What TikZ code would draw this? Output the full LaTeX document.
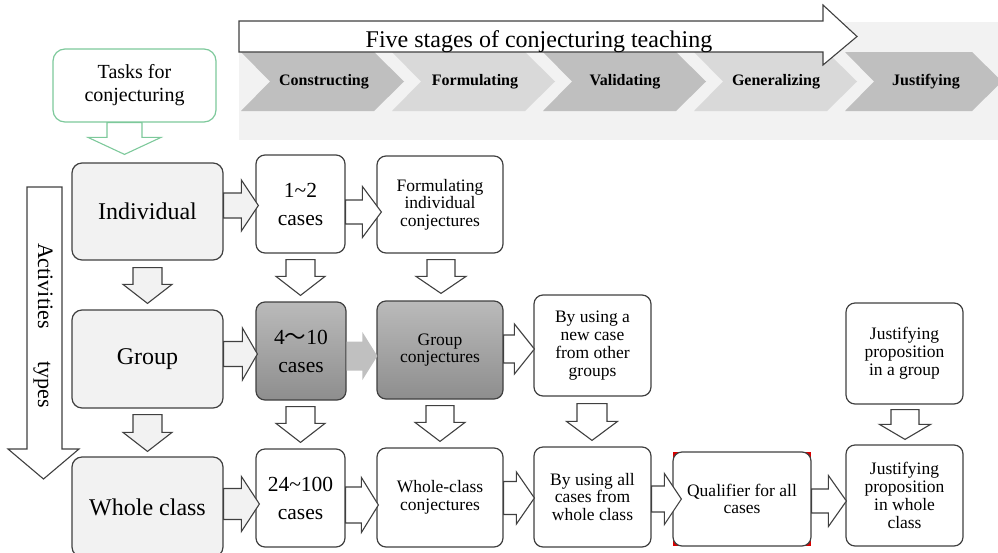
\documentclass[tikz,border=0pt]{standalone}
\usepackage{fontspec}
\setmainfont{Liberation Serif}
\newfontfamily\cjkfont{Noto Sans CJK SC}
\usetikzlibrary{calc}
\definecolor{lgray}{HTML}{F2F2F2}
\definecolor{chevdark}{HTML}{BFBFBF}
\definecolor{chevlight}{HTML}{D9D9D9}
\definecolor{edge}{HTML}{404040}
\definecolor{tgreen}{HTML}{7DC99B}
\definecolor{gtop}{HTML}{BABABA}
\definecolor{gbot}{HTML}{8E8E8E}
\definecolor{garrow}{HTML}{C0C0C0}

% box: name, x1, y1, x2, y2, style, text
\newcommand\mkbox[7]{\node[#6, minimum width={(#4-#2)*1pt}, minimum height={(#5-#3)*1pt}] (#1) at ({(#2+#4)/2},{(#3+#5)/2}) {#7};}
% horizontal block arrow: style, from, to, yc, shaft half, head half, head len, overshoot
\newcommand\harr[8]{\path[#1] let \p1=(#2), \p2=(#3), \p3=(0,#4) in
  (\x1,\y3+#5) -- (\x2+#8-#7,\y3+#5) -- (\x2+#8-#7,\y3+#6) -- (\x2+#8,\y3) --
  (\x2+#8-#7,\y3-#6) -- (\x2+#8-#7,\y3-#5) -- (\x1,\y3-#5) -- cycle;}
% vertical block arrow: style, from, to, xc, shaft half, head half, head len, start gap, end gap
\newcommand\varr[9]{\path[#1] let \p1=(#2), \p2=(#3), \p3=(#4,0) in
  (\x3-#5,\y1-#8) -- (\x3-#5,\y2+#9+#7) -- (\x3-#6,\y2+#9+#7) -- (\x3,\y2+#9) --
  (\x3+#6,\y2+#9+#7) -- (\x3+#5,\y2+#9+#7) -- (\x3+#5,\y1-#8) -- cycle;}
% chevron: left x, right-top x, style
\newcommand\chev[3]{\fill[#3] (#1,52) -- (#2,52) -- (#2+30,81.5) -- (#2,111) -- (#1,111) -- (#1+29,81.5) -- cycle;}

\tikzset{
  box/.style={draw=edge, line width=1.2pt, rounded corners=9pt, align=center, inner sep=0pt, text=black},
  lbox/.style={box, fill=lgray, rounded corners=10pt, font=\fontsize{24}{27}\selectfont},
  cbox/.style={box, fill=white, font=\fontsize{21.5}{28}\selectfont},
  gbox/.style={box, top color=gtop, bottom color=gbot},
  tbox/.style={box, fill=white, font=\fontsize{17.5}{17.5}\selectfont},
  wtarrow/.style={draw=edge, line width=1.1pt, fill=white},
  ltarrow/.style={draw=edge, line width=1.1pt, fill=lgray},
  grarrow/.style={fill=garrow},
  chevlabel/.style={font=\fontsize{16}{18}\selectfont\bfseries, text=black, inner sep=0pt}
}

\begin{document}
\begin{tikzpicture}[x=1pt,y=-1pt]
\useasboundingbox (0,0) rectangle (998,552);

% ---- top band with stages ----
\fill[lgray] (239,22) rectangle (998,140);
\chev{241}{374}{chevdark}
\chev{392}{525}{chevlight}
\chev{543}{676}{chevdark}
\chev{694}{827}{chevlight}
\chev{845}{972}{chevdark}
\node[chevlabel] (s1) at (324,81.5) {Constructing};
\node[chevlabel] (s2) at (475,81.5) {Formulating};
\node[chevlabel] (s3) at (625,81.5) {Validating};
\node[chevlabel] (s4) at (776,81.5) {Generalizing};
\node[chevlabel] (s5) at (926,81.5) {Justifying};

\draw[draw=edge, line width=1.1pt, fill=white]
  (239,21) -- (823,21) -- (823,5) -- (857,36.5) -- (823,65) -- (823,52) -- (239,52) -- cycle;
\node[anchor=base, inner sep=0pt, font=\fontsize{24}{27}\selectfont] (stages) at (539,47) {Five stages of conjecturing teaching};

% ---- tasks ----
\mkbox{tasks}{53}{49}{216}{122}{box, draw=tgreen, fill=white, rounded corners=12pt, font=\fontsize{20}{23}\selectfont}{Tasks for\\conjecturing}

% ---- activities types arrow ----
\draw[draw=edge, line width=1.1pt, fill=white]
  (27,187) -- (62,187) -- (62,449) -- (79,449) -- (43.5,479) -- (8,449) -- (27,449) -- cycle;
\node[rotate=-90, inner sep=0pt, font=\fontsize{22}{26}\selectfont] (acts) at (43,325.5) {Activities\hspace{33pt}types};

% ---- boxes ----
\mkbox{ind}{72}{163}{223}{260}{lbox}{Individual}
\mkbox{grp}{72}{310}{223}{408}{lbox}{Group}
\mkbox{whl}{72}{457}{223}{557}{lbox}{Whole class}

\mkbox{c1}{256}{155}{345}{253}{cbox}{1\textasciitilde2\\cases}
\mkbox{c2}{256}{302}{346}{400}{cbox, gbox}{4{\cjkfont ～}10\\cases}
\mkbox{c3}{256}{449}{345}{547}{cbox}{24\textasciitilde100\\cases}

\mkbox{f1}{377}{156}{503}{253}{tbox}{Formulating\\individual\\conjectures}
\mkbox{f2}{377}{301}{503}{399}{tbox, gbox}{Group\\conjectures}
\mkbox{f3}{377}{448}{503}{547}{tbox}{Whole-class\\conjectures}

\mkbox{g2}{534}{295}{651}{396}{tbox, font=\fontsize{17.5}{18}\selectfont}{By using a\\new case\\from other\\groups}
\mkbox{g3}{534}{447}{651}{547}{tbox}{By using all\\cases from\\whole class}

\fill[red!85!black] (673,452) rectangle (811,546);
\mkbox{q3}{673}{452}{811}{546}{tbox}{Qualifier for all\\cases}

\mkbox{j2}{846}{303}{963}{404}{tbox, font=\fontsize{17.5}{18}\selectfont}{Justifying\\proposition\\in a group}
\mkbox{j3}{846}{445}{963}{546}{tbox, font=\fontsize{17.5}{18}\selectfont}{Justifying\\proposition\\in whole\\class}

% ---- vertical arrows ----
\varr{draw=tgreen, line width=1.1pt, fill=white}{tasks.south}{ind.north}{124.5}{17.5pt}{36.5pt}{17pt}{0pt}{8pt}
\varr{ltarrow}{ind.south}{grp.north}{147.5}{14.5pt}{24.5pt}{19pt}{7pt}{6pt}
\varr{ltarrow}{grp.south}{whl.north}{147.5}{14.5pt}{24.5pt}{19pt}{6pt}{5pt}
\varr{wtarrow}{c1.south}{c2.north}{300.5}{14.5pt}{24.5pt}{19pt}{6pt}{6pt}
\varr{wtarrow}{f1.south}{f2.north}{441}{14pt}{25pt}{17pt}{6pt}{7pt}
\varr{wtarrow}{c2.south}{c3.north}{300.5}{14.5pt}{24.5pt}{19pt}{6pt}{6pt}
\varr{wtarrow}{f2.south}{f3.north}{440}{14pt}{25pt}{19pt}{6pt}{6pt}
\varr{wtarrow}{g2.south}{g3.north}{592}{15pt}{25.5pt}{19pt}{7pt}{6pt}
\varr{wtarrow}{j2.south}{j3.north}{905}{14pt}{25.5pt}{15pt}{5pt}{5pt}

% ---- horizontal arrows ----
\harr{ltarrow}{ind.east}{c1.west}{205.5}{12.5pt}{25.5pt}{17pt}{3pt}
\harr{wtarrow}{c1.east}{f1.west}{212}{12pt}{25.5pt}{19pt}{5pt}
\harr{ltarrow}{grp.east}{c2.west}{354}{12.5pt}{26pt}{15pt}{2pt}
\harr{grarrow}{c2.east}{f2.west}{356}{14.5pt}{24pt}{15pt}{1pt}
\harr{wtarrow}{f2.east}{g2.west}{349}{14pt}{25pt}{20pt}{1pt}
\harr{ltarrow}{whl.east}{c3.west}{504}{15.5pt}{27.5pt}{18pt}{4pt}
\harr{wtarrow}{c3.east}{f3.west}{505}{18pt}{27.5pt}{17pt}{2pt}
\harr{wtarrow}{f3.east}{g3.west}{498}{16.5pt}{26pt}{18pt}{1pt}
\harr{wtarrow}{g3.east}{q3.west}{499}{13pt}{25.5pt}{17pt}{9pt}
\harr{wtarrow}{q3.east}{j3.west}{501}{12pt}{25.5pt}{18pt}{1pt}
\end{tikzpicture}
\end{document}
